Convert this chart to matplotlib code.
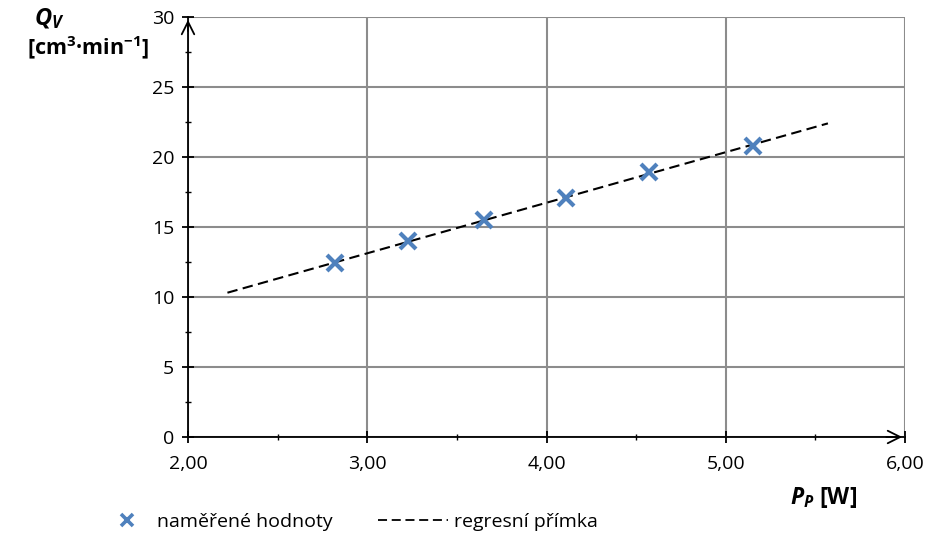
import numpy as np
import matplotlib
matplotlib.use('Agg')
import matplotlib.pyplot as plt
from matplotlib.ticker import MultipleLocator, FixedLocator, FixedFormatter
from matplotlib.lines import Line2D

FONT = 'Open Sans'
plt.rcParams['font.family'] = [FONT, 'DejaVu Sans']
plt.rcParams['mathtext.fontset'] = 'custom'
plt.rcParams['mathtext.rm'] = FONT
plt.rcParams['mathtext.bf'] = FONT + ':bold'
plt.rcParams['mathtext.it'] = FONT + ':italic'
plt.rcParams['mathtext.bfit'] = FONT + ':bold:italic'

# measured values
power = [2.82, 3.23, 3.65, 4.11, 4.57, 5.15]       # P_P [W]
flow = [12.4, 14.0, 15.5, 17.1, 18.9, 20.8]        # Q_V [cm3/min]

# trendline extension (Excel-like backward / forward forecast)
trend_back = 0.60
trend_fwd = 0.42

x_ticks = [2.0, 3.0, 4.0, 5.0, 6.0]
x_tick_labels = ['2,00', '3,00', '4,00', '5,00', '6,00']
y_ticks = [0, 5, 10, 15, 20, 25, 30]
y_tick_labels = ['0', '5', '10', '15', '20', '25', '30']

marker_color = '#4F81BD'
grid_color = '#8c8c8c'
dash = (0, (5, 2.6))

fig = plt.figure(figsize=(9.27, 5.35), dpi=100)
ax = fig.add_axes([188 / 927, 1 - 437 / 535, (905 - 188) / 927, (437 - 17) / 535])

# regression line
slope, intercept = np.polyfit(power, flow, 1)
xr = np.array([min(power) - trend_back, max(power) + trend_fwd])
ax.plot(xr, slope * xr + intercept, color='black', linestyle=dash,
        linewidth=1.5, zorder=3)

ax.plot(power, flow, linestyle='none', marker='x', markersize=11,
        markeredgewidth=3, color=marker_color, zorder=4)

ax.set_xlim(2, 6)
ax.set_ylim(0, 30)
ax.xaxis.set_major_locator(FixedLocator(x_ticks))
ax.xaxis.set_major_formatter(FixedFormatter(x_tick_labels))
ax.yaxis.set_major_locator(FixedLocator(y_ticks))
ax.yaxis.set_major_formatter(FixedFormatter(y_tick_labels))
ax.xaxis.set_minor_locator(MultipleLocator(0.5))
ax.yaxis.set_minor_locator(MultipleLocator(2.5))

ax.grid(True, which='major', color=grid_color, linewidth=1.5, zorder=0)
ax.set_axisbelow(True)

for s in ['top', 'right']:
    ax.spines[s].set_visible(False)
for s in ['left', 'bottom']:
    ax.spines[s].set_linewidth(1.3)
    ax.spines[s].set_zorder(5)

ax.tick_params(which='major', direction='inout', length=8, width=1.3,
               labelsize=14, colors='black')
ax.tick_params(which='minor', direction='inout', length=5, width=1)
ax.tick_params(axis='x', which='major', pad=9)
ax.tick_params(axis='y', which='major', pad=6)

# axis arrows
ax.annotate('', xy=(1.0, 0), xytext=(0.97, 0), xycoords='axes fraction',
            arrowprops=dict(arrowstyle='->,head_length=0.9,head_width=0.45',
                            color='black', lw=1.3), annotation_clip=False)
ax.annotate('', xy=(0, 1.0), xytext=(0, 0.96), xycoords='axes fraction',
            arrowprops=dict(arrowstyle='->,head_length=0.9,head_width=0.45',
                            color='black', lw=1.3), annotation_clip=False)

# axis titles
fig.text(49 / 927, 1 - 19 / 535, r'$\mathbfit{Q}_{\mathbfit{V}}$', fontsize=17,
         ha='center', va='center')
fig.text(88 / 927, 1 - 48 / 535, r'[cm$^{\mathbf{3}}$·min$^{\mathbf{-1}}$]',
         fontsize=15.5, fontweight='bold', ha='center', va='center')
fig.text(824 / 927, 1 - 497 / 535, r'$\mathbfit{P}_{\mathbfit{P}}$ [W]',
         fontsize=16.5, fontweight='bold', ha='center', va='center')

# legend (two entries placed side by side)
marker_handle = Line2D([], [], linestyle='none', marker='x', markersize=9,
                       markeredgewidth=2.6, color=marker_color)
line_handle = Line2D([], [], color='black', linestyle=dash, linewidth=1.3)
leg1 = fig.legend([marker_handle], ['naměřené hodnoty'],
                  loc='center left', bbox_to_anchor=(108 / 927, 1 - 522 / 535),
                  frameon=False, fontsize=14, handlelength=2.0,
                  handletextpad=0.5, borderaxespad=0, borderpad=0)
leg2 = fig.legend([line_handle], ['regresní přímka'],
                  loc='center left', bbox_to_anchor=(378 / 927, 1 - 522 / 535),
                  frameon=False, fontsize=14, handlelength=3.6,
                  handletextpad=0.3, borderaxespad=0, borderpad=0)

fig.savefig('out.png', dpi=100)
